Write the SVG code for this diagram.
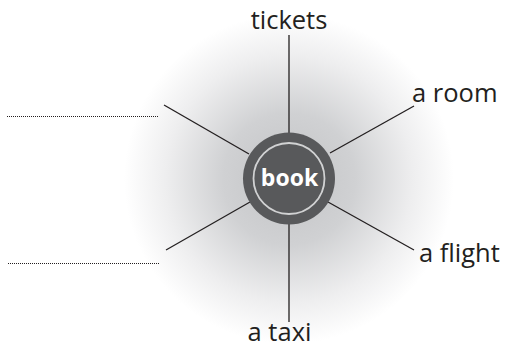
<svg xmlns="http://www.w3.org/2000/svg" width="511" height="347" viewBox="0 0 511 347">
  <defs>
    <radialGradient id="glow" cx="289" cy="179" r="165" gradientUnits="userSpaceOnUse">
      <stop offset="0" stop-color="#c2c3c5"/>
      <stop offset="0.4" stop-color="#d0d1d3"/>
      <stop offset="0.75" stop-color="#eeeeef"/>
      <stop offset="1" stop-color="#ffffff"/>
    </radialGradient>
  </defs>
  <style>
    .lbl { font-family: "Open Sans", "Noto Sans", sans-serif; font-size: 25.5px; fill: #231f20; }
    .spoke { stroke: #231f20; stroke-width: 1.3; fill: none; }
    .blank { stroke: #231f20; stroke-width: 1; stroke-dasharray: 1 1; fill: none; }
  </style>
  <rect width="511" height="347" fill="#ffffff"/>
  <circle cx="289" cy="179" r="165" fill="url(#glow)"/>
  <g id="connectors">
    <line class="spoke" x1="289" y1="35" x2="289" y2="134"/>
    <line class="spoke" x1="414" y1="106" x2="330" y2="153"/>
    <line class="spoke" x1="328" y1="202" x2="414" y2="250"/>
    <line class="spoke" x1="289" y1="224" x2="289" y2="322"/>
    <line class="spoke" x1="164" y1="105" x2="249" y2="154"/>
    <line class="spoke" x1="166" y1="250" x2="250" y2="202"/>
  </g>
  <g id="node-book">
    <circle cx="289" cy="178.5" r="46" fill="#58595b"/>
    <circle cx="289" cy="178.5" r="35.5" fill="none" stroke="#d1d2d3" stroke-width="1.8"/>
    <text x="289.5" y="185.5" text-anchor="middle" font-family="'Open Sans', 'Noto Sans', sans-serif" font-weight="bold" font-size="23" fill="#ffffff">book</text>
  </g>
  <g id="node-tickets"><text class="lbl" x="289" y="29" text-anchor="middle">tickets</text></g>
  <g id="node-room"><text class="lbl" x="412" y="102">a room</text></g>
  <g id="node-flight"><text class="lbl" x="419" y="262">a flight</text></g>
  <g id="node-taxi"><text class="lbl" x="279.5" y="340.5" text-anchor="middle">a taxi</text></g>
  <g id="node-blank1"><line class="blank" x1="7" y1="116.5" x2="159" y2="116.5"/></g>
  <g id="node-blank2"><line class="blank" x1="8" y1="263.5" x2="160" y2="263.5"/></g>
</svg>
